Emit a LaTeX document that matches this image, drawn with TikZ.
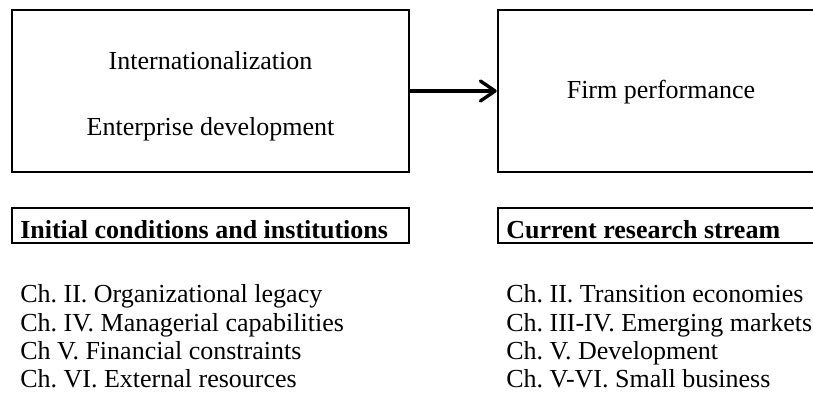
\documentclass[tikz,border=0pt]{standalone}
\usepackage{fontspec}
\setmainfont{Liberation Serif}
\usetikzlibrary{arrows.meta}
\frenchspacing
\begin{document}
\begin{tikzpicture}[x=0.75pt,y=-0.75pt,
  bigbox/.style={draw, line width=1.9pt, minimum height=121.5pt, inner sep=0pt},
  headbox/.style={draw, line width=1pt, minimum height=26.25pt, inner sep=0pt},
  txt/.style={font=\fontsize{19.5}{23}\selectfont, inner sep=0pt},
  bold/.style={font=\fontsize{19.5}{23}\selectfont\bfseries, inner sep=0pt},
  flow/.style={line width=2.5pt, -{Straight Barb[length=11pt,width=15pt,line cap=round,line join=round]}}]
\useasboundingbox (0,0) rectangle (813,416);
\clip (0,0) rectangle (813,416);
% boxes
\node[bigbox, minimum width=297.75pt] (lbox) at (210.5,91) {};
\node[bigbox, minimum width=244.5pt] (rbox) at (661,91) {};
\node[headbox, minimum width=297.75pt] (lhead) at (210.5,225.5) {};
\node[headbox, minimum width=244.5pt] (rhead) at (661,225.5) {};
% box texts
\node[txt, anchor=base] (t1) at (210.5,70) {Internationalization};
\node[txt, anchor=base] (t2) at (210.5,136) {Enterprise development};
\node[txt, anchor=base] (t3) at (661,99) {Firm performance};
\node[bold, anchor=base west] (h1) at (20,239) {Initial conditions and institutions};
\node[bold, anchor=base west] (h2) at (506,239) {Current research stream};
% lists
\node[txt, anchor=base west] (a1) at (20,303) {Ch. II. Organizational legacy};
\node[txt, anchor=base west] (a2) at (20,331) {Ch. IV. Managerial capabilities};
\node[txt, anchor=base west] (a3) at (20,359) {Ch V. Financial constraints};
\node[txt, anchor=base west] (a4) at (20,387) {Ch. VI. External resources};
\node[txt, anchor=base west] (b1) at (506,303) {Ch. II. Transition economies};
\node[txt, anchor=base west] (b2) at (506,331) {Ch. III-IV. Emerging markets};
\node[txt, anchor=base west] (b3) at (506,359) {Ch. V. Development};
\node[txt, anchor=base west] (b4) at (506,387) {Ch. V-VI. Small business};
% arrow
\draw[flow] (lbox.east) -- (rbox.west);
\end{tikzpicture}
\end{document}
